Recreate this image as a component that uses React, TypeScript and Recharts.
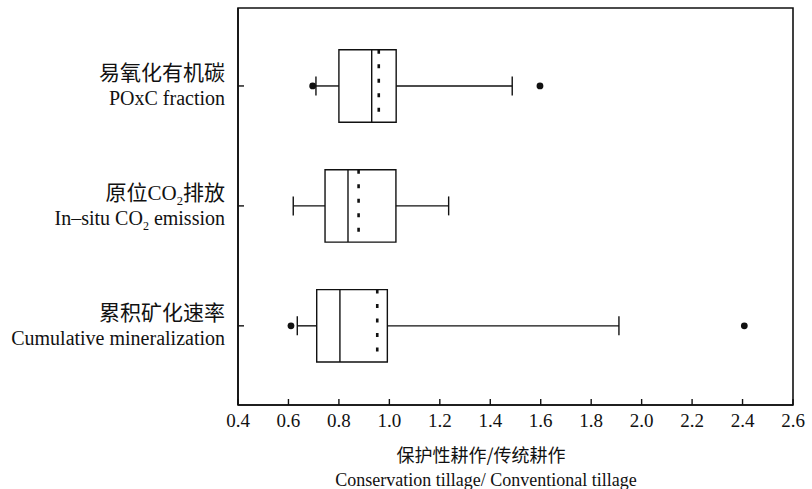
import { ComposedChart, XAxis, YAxis, Scatter, ReferenceArea, ReferenceLine } from 'recharts'

// 指标（上→下）
const categories = ['易氧化有机碳', '原位CO2排放', '累积矿化速率']
const categoriesEn = ['POxC fraction', 'In–situ CO2 emission', 'Cumulative mineralization']

// 箱线图统计量（保护性耕作/传统耕作）
const whiskerLow = [0.709, 0.619, 0.635]
const q1 = [0.8, 0.745, 0.712]
const median = [0.93, 0.836, 0.804]
const mean = [0.958, 0.878, 0.952]
const q3 = [1.027, 1.026, 0.992]
const whiskerHigh = [1.487, 1.235, 1.91]
const outliers = [[0.696, 1.597], [], [0.61, 2.407]]

const xTicks = [0.4, 0.6, 0.8, 1.0, 1.2, 1.4, 1.6, 1.8, 2.0, 2.2, 2.4, 2.6]
const xDomain = [0.4, 2.6]
const yDomain = [0.34, 3.65]

const SERIF = "'Liberation Serif', 'Times New Roman', 'Noto Sans CJK SC', serif"
const CJK = "'Noto Sans CJK SC', sans-serif"
const INK = '#111'
const BOX_HALF = 0.302
const CAP_HALF = 0.079
const SUB_DY = 5

const yPos = (i: number) => categories.length - i

const outlierPoints = outliers.flatMap((xs, i) => xs.map((x) => ({ x, y: yPos(i) })))

// 中文与西文分字体，CO2 的 2 下标
function mixed(s: string, size: number) {
  const out: any[] = []
  let shiftBack = false
  s.split(/(CO2)/).forEach((p, k) => {
    if (!p) return
    if (p === 'CO2') {
      out.push(<tspan key={k + 'a'} style={{ fontFamily: SERIF }}>CO</tspan>)
      out.push(<tspan key={k + 'b'} dy={SUB_DY} style={{ fontFamily: SERIF, fontSize: size * 0.6 }}>2</tspan>)
      shiftBack = true
      return
    }
    const cjk = /[\u4e00-\u9fff]/.test(p)
    out.push(
      <tspan key={k} dy={shiftBack ? -SUB_DY : undefined} style={{ fontFamily: cjk ? CJK : SERIF }}>{p}</tspan>,
    )
    shiftBack = false
  })
  return out
}

function CatTick({ y, payload }: any) {
  const i = categories.length - payload.value
  if (i < 0 || i >= categories.length) return null
  return (
    <g fill={INK}>
      <text x={225} y={y - 6} textAnchor="end" style={{ fontSize: 21 }}>{mixed(categories[i], 21)}</text>
      <text x={225} y={y + 19} textAnchor="end" style={{ fontSize: 20 }}>{mixed(categoriesEn[i], 20)}</text>
    </g>
  )
}

function ValueTick({ x, payload }: any) {
  return (
    <text x={x} y={427} textAnchor="middle" fill={INK} style={{ fontSize: 19, fontFamily: SERIF }}>
      {Number(payload.value).toFixed(1)}
    </text>
  )
}

function AxisTitle() {
  return (
    <g fill={INK}>
      <text x={481} y={462} textAnchor="middle" style={{ fontSize: 18, fontFamily: CJK }}>保护性耕作/传统耕作</text>
      <text x={486} y={486} textAnchor="middle" style={{ fontSize: 18, fontFamily: SERIF }}>
        Conservation tillage/ Conventional tillage
      </text>
    </g>
  )
}

export default function App() {
  const line = { stroke: INK, strokeWidth: 1.4, ifOverflow: 'visible' as const }
  const marks: any[] = []
  categories.forEach((_, i) => {
    const y = yPos(i)
    marks.push(
      <ReferenceLine key={`wl${i}`} {...line} segment={[{ x: whiskerLow[i], y }, { x: q1[i], y }]} />,
      <ReferenceLine key={`wh${i}`} {...line} segment={[{ x: q3[i], y }, { x: whiskerHigh[i], y }]} />,
      <ReferenceLine key={`cl${i}`} {...line} segment={[{ x: whiskerLow[i], y: y - CAP_HALF }, { x: whiskerLow[i], y: y + CAP_HALF }]} />,
      <ReferenceLine key={`ch${i}`} {...line} segment={[{ x: whiskerHigh[i], y: y - CAP_HALF }, { x: whiskerHigh[i], y: y + CAP_HALF }]} />,
      <ReferenceArea key={`b${i}`} x1={q1[i]} x2={q3[i]} y1={y - BOX_HALF} y2={y + BOX_HALF}
        fill="none" fillOpacity={0} stroke={INK} strokeWidth={1.4} ifOverflow="visible" />,
      <ReferenceLine key={`md${i}`} {...line} segment={[{ x: median[i], y: y - BOX_HALF }, { x: median[i], y: y + BOX_HALF }]} />,
      <ReferenceLine key={`mn${i}`} stroke={INK} strokeWidth={2.6} strokeDasharray="4 10.5" ifOverflow="visible"
        segment={[{ x: mean[i], y: y + BOX_HALF }, { x: mean[i], y: y - BOX_HALF }]} />,
    )
  })

  return (
    <div style={{ width: 812, height: 489, background: '#fff' }}>
      <style>{'body{margin:0}'}</style>
      <ComposedChart width={812} height={489} margin={{ top: 8, right: 19, bottom: 0, left: 0 }}>
        <XAxis
          type="number"
          dataKey="x"
          domain={xDomain}
          ticks={xTicks}
          interval={0}
          height={84}
          tickSize={-6}
          axisLine={{ stroke: INK, strokeWidth: 1.6 }}
          tickLine={{ stroke: INK, strokeWidth: 1.4 }}
          tick={<ValueTick />}
          label={{ content: () => <AxisTitle /> }}
        />
        <YAxis
          type="number"
          dataKey="y"
          domain={yDomain}
          ticks={[1, 2, 3]}
          interval={0}
          width={238}
          tickSize={-6}
          axisLine={{ stroke: INK, strokeWidth: 1.6 }}
          tickLine={{ stroke: INK, strokeWidth: 1.4 }}
          tick={<CatTick />}
        />
        <ReferenceArea x1={xDomain[0]} x2={xDomain[1]} y1={yDomain[0]} y2={yDomain[1]}
          fill="none" fillOpacity={0} stroke={INK} strokeWidth={1.6} ifOverflow="visible" />
        {marks}
        <Scatter
          data={outlierPoints}
          isAnimationActive={false}
          shape={(p: any) => <circle cx={p.cx} cy={p.cy} r={3.4} fill={INK} />}
        />
      </ComposedChart>
    </div>
  )
}
